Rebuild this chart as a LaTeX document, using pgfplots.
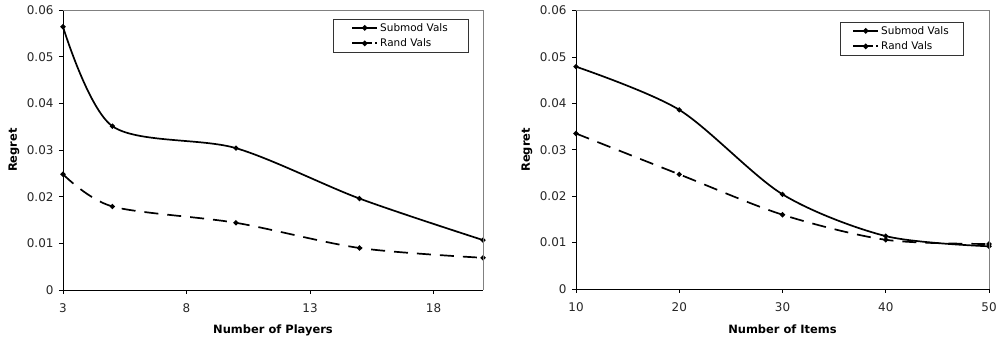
\documentclass[border=0pt]{standalone}
\usepackage{pgfplots}
\pgfplotsset{compat=1.18}
\usepackage{fontspec}
\setmainfont{DejaVu Sans}
\begin{document}
\begin{tikzpicture}
\useasboundingbox (0,0) rectangle (998bp,343bp);
\pgfplotsset{
  excel/.style={
    scale only axis,
    axis lines=left,
    axis line style={-,black,line width=0.8bp},
    tick align=outside,
    major tick length=4bp,
    every tick/.style={black,line width=0.8bp},
    clip=false,
    ymin=0, ymax=0.06,
    scaled y ticks=false,
    ytick={0,0.01,0.02,0.03,0.04,0.05,0.06},
    yticklabels={0,0.01,0.02,0.03,0.04,0.05,0.06},
    tick label style={font=\fontsize{12}{14}\selectfont, color=black!85},
    yticklabel style={xshift=-2bp},
    xticklabel style={yshift=-6bp},
    label style={font=\fontsize{11.5}{13}\selectfont\bfseries},
    ylabel={Regret},
    ylabel style={at={([xshift=-49bp]axis description cs:0,0.5)}, anchor=center},
    xlabel style={at={([yshift=-40bp]axis description cs:0.5,0)}, anchor=center},
    after end axis/.code={\draw[gray,line width=0.8bp] (rel axis cs:0,1) -- (rel axis cs:1,1) -- (rel axis cs:1,0);},
    legend cell align=left,
    legend style={font=\fontsize{10.5}{12}\selectfont, draw=black!80, fill=white,
      anchor=north east, inner ysep=2bp, row sep=2bp},
    every axis plot/.append style={line width=1.7bp, black, mark=*, mark size=1.6bp, mark options={solid}, smooth},
    legend image code/.code={\draw[line width=2bp,solid,mark repeat=2,mark phase=2] plot[sharp plot] coordinates {(0bp,0bp)(12.5bp,0bp)(25bp,0bp)};},
  },
  sub/.style={solid},
  rnd/.style={dash pattern=on 14bp off 9bp,
    legend image code/.code={\draw[line width=2bp,mark repeat=2,mark phase=2,dash pattern=on 20bp off 3bp on 2bp off 10bp] plot[sharp plot] coordinates {(0bp,0bp)(12.5bp,0bp)(25bp,0bp)};}},
}
\begin{axis}[excel, at={(63bp,53bp)}, anchor=south west, width=420bp, height=280bp,
  xmin=3, xmax=20, xtick={3,8,13,18}, xticklabels={3,8,13,18},
  xlabel={Number of Players},
  legend style={at={([xshift=-15bp,yshift=-9bp]axis description cs:1,1)}, inner xsep=18bp}]
\addplot[sub] coordinates {(3,0.0564)(5,0.0351)(10,0.0304)(15,0.0196)(20,0.0107)};
\addlegendentry{Submod Vals}
\addplot[rnd] coordinates {(3,0.0248)(5,0.0179)(10,0.0144)(15,0.0090)(20,0.0069)};
\addlegendentry{Rand Vals}
\end{axis}
\begin{axis}[excel, at={(576bp,54bp)}, anchor=south west, width=413bp, height=278.5bp,
  xmin=10, xmax=50, xtick={10,20,30,40,50}, xticklabels={10,20,30,40,50},
  xlabel={Number of Items},
  legend style={at={([xshift=-26bp,yshift=-11.5bp]axis description cs:1,1)}, inner xsep=12bp}]
\addplot[sub] coordinates {(10,0.0479)(20,0.0386)(30,0.0204)(40,0.0114)(50,0.0092)};
\addlegendentry{Submod Vals}
\addplot[rnd] coordinates {(10,0.0335)(20,0.0247)(30,0.0160)(40,0.0106)(50,0.0097)};
\addlegendentry{Rand Vals}
\end{axis}
\end{tikzpicture}
\end{document}
